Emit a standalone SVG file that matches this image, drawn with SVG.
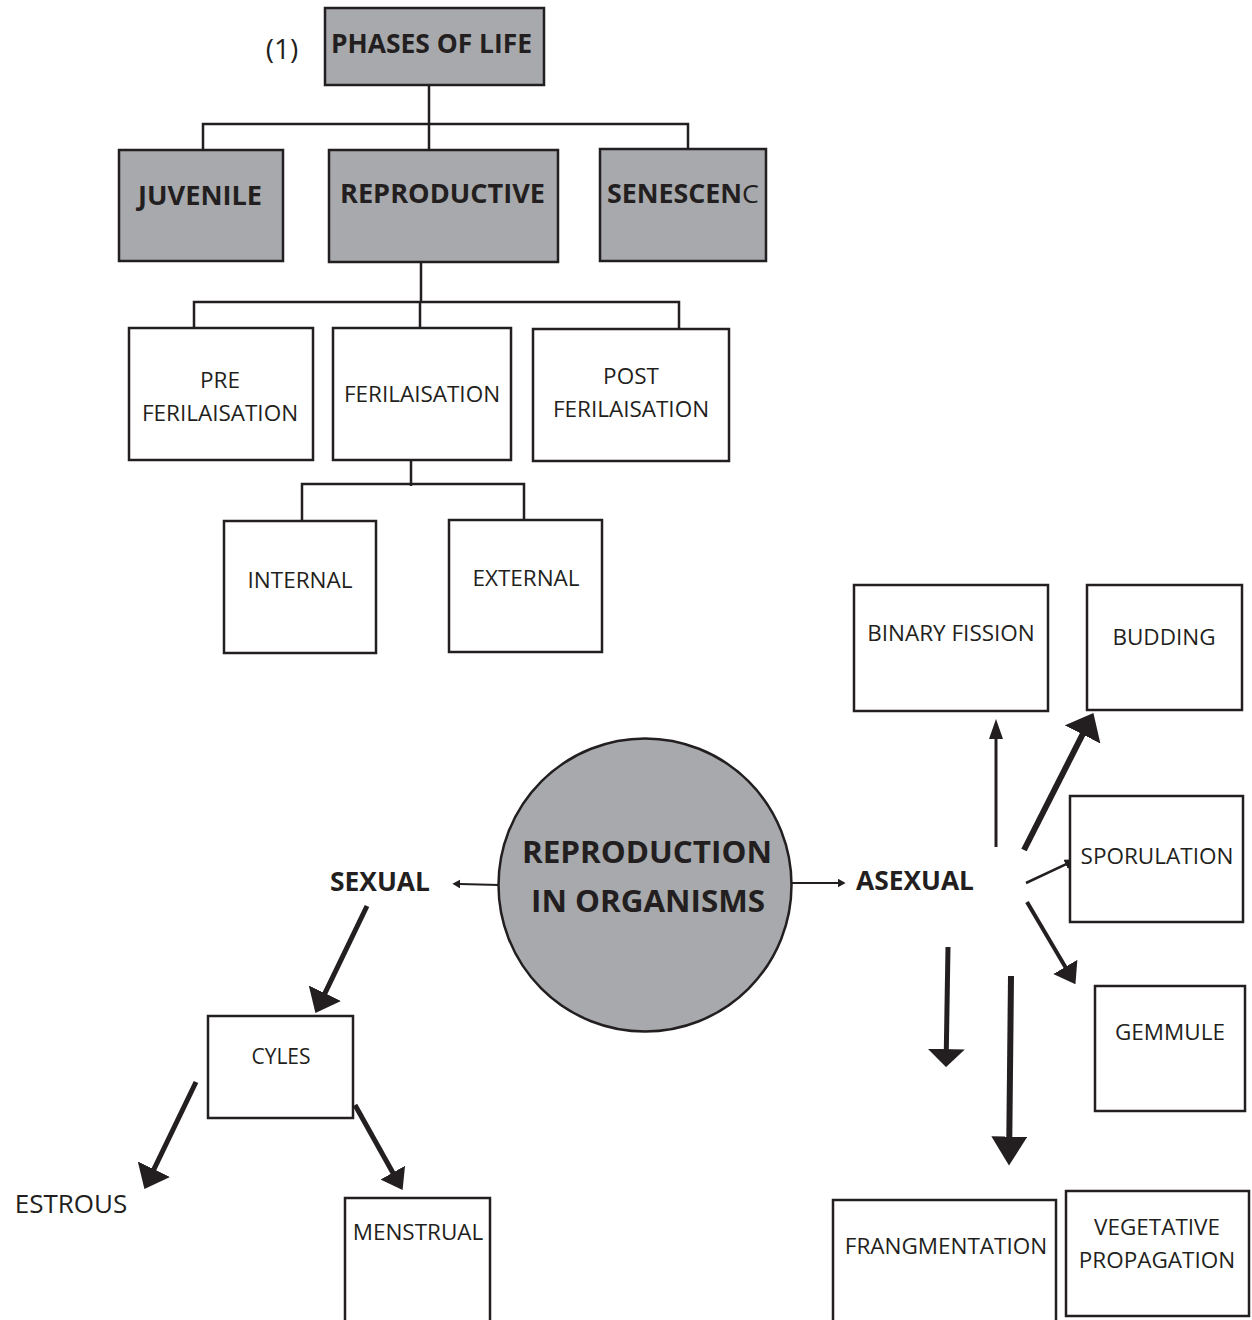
<svg xmlns="http://www.w3.org/2000/svg" width="1252" height="1320" viewBox="0 0 1252 1320">
<style>
  .box{fill:#fff;stroke:#231f20;stroke-width:2.5}
  .gbox{fill:#a7a9ac;stroke:#231f20;stroke-width:2.5}
  .t{font-family:"Open Sans","Noto Sans","Liberation Sans",sans-serif;font-size:22.5px;fill:#231f20;text-anchor:middle}
  .b{font-family:"Open Sans","Noto Sans","Liberation Sans",sans-serif;font-weight:bold;font-size:26px;fill:#231f20}
  .tree{fill:none;stroke:#231f20;stroke-width:2.5}
  .ar{stroke:#231f20;fill:none}
  .hd{fill:#231f20}
</style>
<defs>
  <marker id="m-s" viewBox="0 0 10 10" refX="0.5" refY="5" markerUnits="userSpaceOnUse" markerWidth="8" markerHeight="9" orient="auto" preserveAspectRatio="none"><path class="hd" d="M0,0 L10,5 L0,10 z"/></marker>
  <marker id="m-sp" viewBox="0 0 10 10" refX="0.5" refY="5" markerUnits="userSpaceOnUse" markerWidth="12" markerHeight="10" orient="auto" preserveAspectRatio="none"><path class="hd" d="M0,0 L10,5 L0,10 z"/></marker>
  <marker id="m-bf" viewBox="0 0 10 10" refX="0.5" refY="5" markerUnits="userSpaceOnUse" markerWidth="20" markerHeight="14" orient="auto" preserveAspectRatio="none"><path class="hd" d="M0,0 L10,5 L0,10 z"/></marker>
  <marker id="m-bud" viewBox="0 0 10 10" refX="0.5" refY="5" markerUnits="userSpaceOnUse" markerWidth="24" markerHeight="40" orient="auto" preserveAspectRatio="none"><path class="hd" d="M0,0 L10,5 L0,10 z"/></marker>
  <marker id="m-lg" viewBox="0 0 10 10" refX="0.5" refY="5" markerUnits="userSpaceOnUse" markerWidth="22" markerHeight="36" orient="auto" preserveAspectRatio="none"><path class="hd" d="M0,0 L10,5 L0,10 z"/></marker>
  <marker id="m-md" viewBox="0 0 10 10" refX="0.5" refY="5" markerUnits="userSpaceOnUse" markerWidth="20" markerHeight="28" orient="auto" preserveAspectRatio="none"><path class="hd" d="M0,0 L10,5 L0,10 z"/></marker>
  <marker id="m-d1" viewBox="0 0 10 10" refX="0.5" refY="5" markerUnits="userSpaceOnUse" markerWidth="18" markerHeight="37" orient="auto" preserveAspectRatio="none"><path class="hd" d="M0,0 L10,5 L0,10 z"/></marker>
  <marker id="m-d2" viewBox="0 0 10 10" refX="0.5" refY="5" markerUnits="userSpaceOnUse" markerWidth="29" markerHeight="36" orient="auto" preserveAspectRatio="none"><path class="hd" d="M0,0 L10,5 L0,10 z"/></marker>
</defs>
<rect width="1252" height="1320" fill="#fff"/>

<g id="connectors">
  <path class="tree" d="M429,85 V124 M203,150 V124 H688 V150 M429,124 V150"/>
  <path class="tree" d="M421,262 V302 M194,328 V302 H679 V328 M420,302 V328"/>
  <path class="tree" d="M411,460 V486 M302,521 V484 H524 V520"/>
  <line class="ar" stroke-width="2" x1="499" y1="885" x2="460" y2="884" marker-end="url(#m-s)"/>
  <line class="ar" stroke-width="2" x1="792" y1="883" x2="838" y2="883" marker-end="url(#m-s)"/>
  <line class="ar" stroke-width="3" x1="996" y1="847" x2="996" y2="738" marker-end="url(#m-bf)"/>
  <line class="ar" stroke-width="6" x1="1024" y1="850" x2="1083.1" y2="733.4" marker-end="url(#m-bud)"/>
  <line class="ar" stroke-width="2.5" x1="1026" y1="883" x2="1066.2" y2="864.1" marker-end="url(#m-sp)"/>
  <line class="ar" stroke-width="4" x1="1027" y1="902" x2="1065.8" y2="967.8" marker-end="url(#m-md)"/>
  <line class="ar" stroke-width="5" x1="948" y1="947" x2="946.3" y2="1050" marker-end="url(#m-d1)"/>
  <line class="ar" stroke-width="6" x1="1011" y1="976" x2="1009.3" y2="1138" marker-end="url(#m-d2)"/>
  <line class="ar" stroke-width="5" x1="367" y1="906" x2="324.5" y2="994.2" marker-end="url(#m-lg)"/>
  <line class="ar" stroke-width="5" x1="196" y1="1082" x2="153.5" y2="1170.2" marker-end="url(#m-lg)"/>
  <line class="ar" stroke-width="5" x1="355" y1="1105" x2="393.3" y2="1173.5" marker-end="url(#m-md)"/>
</g>

<g id="label-1"><text class="t" x="282" y="59" style="font-size:28px">(1)</text></g>
<g id="phases"><rect class="gbox" x="325" y="8" width="219" height="77"/><text class="b" x="331" y="53" textLength="201" lengthAdjust="spacingAndGlyphs">PHASES OF LIFE</text></g>
<g id="juvenile"><rect class="gbox" x="119" y="150" width="164" height="111"/><text class="b" x="138" y="205" textLength="124" lengthAdjust="spacingAndGlyphs">JUVENILE</text></g>
<g id="reproductive"><rect class="gbox" x="329" y="150" width="229" height="112"/><text class="b" x="340" y="203" textLength="205" lengthAdjust="spacingAndGlyphs">REPRODUCTIVE</text></g>
<g id="senescenc"><rect class="gbox" x="600" y="149" width="166" height="112"/><text class="b" x="607" y="203" textLength="152" lengthAdjust="spacingAndGlyphs">SENESCEN<tspan font-weight="normal">C</tspan></text></g>

<g id="pre"><rect class="box" x="129" y="328" width="184" height="132"/><text class="t" x="220" y="388">PRE</text><text class="t" x="220" y="421">FERILAISATION</text></g>
<g id="feri"><rect class="box" x="333" y="328" width="178" height="132"/><text class="t" x="422" y="402">FERILAISATION</text></g>
<g id="post"><rect class="box" x="533" y="329" width="196" height="132"/><text class="t" x="631" y="384">POST</text><text class="t" x="631" y="417">FERILAISATION</text></g>
<g id="internal"><rect class="box" x="224" y="521" width="152" height="132"/><text class="t" x="300" y="588">INTERNAL</text></g>
<g id="external"><rect class="box" x="449" y="520" width="153" height="132"/><text class="t" x="526" y="586">EXTERNAL</text></g>

<g id="center"><circle cx="645" cy="885" r="146.5" fill="#a7a9ac" stroke="#231f20" stroke-width="2.5"/>
  <text class="b" x="647" y="863" text-anchor="middle" style="font-size:31px" textLength="250" lengthAdjust="spacingAndGlyphs">REPRODUCTION</text>
  <text class="b" x="648" y="912" text-anchor="middle" style="font-size:31px" textLength="234" lengthAdjust="spacingAndGlyphs">IN ORGANISMS</text></g>
<g id="sexual"><text class="b" x="330" y="891" textLength="100" lengthAdjust="spacingAndGlyphs">SEXUAL</text></g>
<g id="asexual"><text class="b" x="856" y="890" textLength="118" lengthAdjust="spacingAndGlyphs">ASEXUAL</text></g>

<g id="binary"><rect class="box" x="854" y="585" width="194" height="126"/><text class="t" x="951" y="641">BINARY FISSION</text></g>
<g id="budding"><rect class="box" x="1087" y="585" width="155" height="125"/><text class="t" x="1164" y="645">BUDDING</text></g>
<g id="sporulation"><rect class="box" x="1070" y="796" width="173" height="126"/><text class="t" x="1157" y="864">SPORULATION</text></g>
<g id="gemmule"><rect class="box" x="1095" y="986" width="150" height="125"/><text class="t" x="1170" y="1040">GEMMULE</text></g>
<g id="frag"><rect class="box" x="833" y="1200" width="223" height="130"/><text class="t" x="946" y="1254">FRANGMENTATION</text></g>
<g id="veg"><rect class="box" x="1066" y="1191" width="183" height="125"/><text class="t" x="1157" y="1235">VEGETATIVE</text><text class="t" x="1157" y="1268">PROPAGATION</text></g>

<g id="cyles"><rect class="box" x="208" y="1016" width="145" height="102"/><text class="t" x="281" y="1064" style="font-size:21px">CYLES</text></g>
<g id="estrous"><text class="t" x="71" y="1213" style="font-size:26px">ESTROUS</text></g>
<g id="menstrual"><rect class="box" x="345" y="1198" width="145" height="130"/><text class="t" x="418" y="1240">MENSTRUAL</text></g>
</svg>
